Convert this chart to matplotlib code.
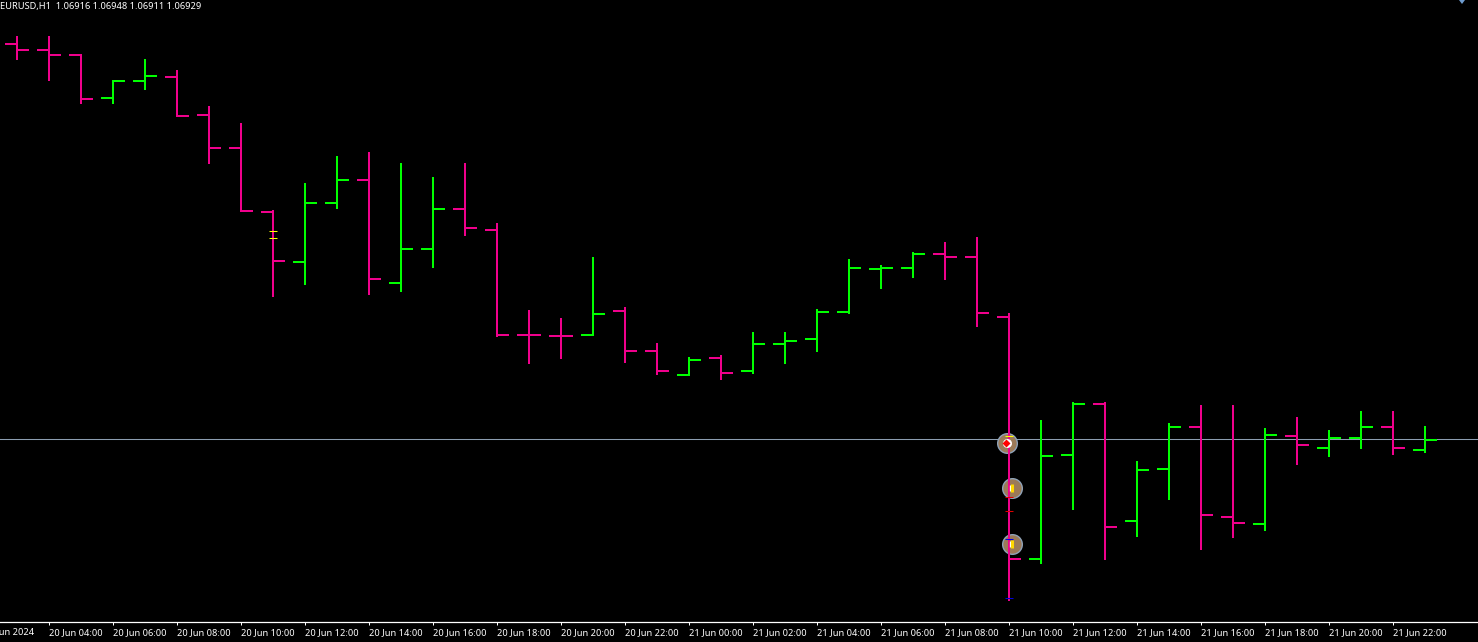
import matplotlib
matplotlib.use("Agg")
import matplotlib.pyplot as plt

# EURUSD H1 bars, first one is 20 Jun 03:00
opens = [1.07457, 1.07449, 1.07442, 1.07385, 1.07408, 1.07413, 1.07362, 1.07318, 1.07233,
         1.07166, 1.07245, 1.07276, 1.07138, 1.07184, 1.07237, 1.07209, 1.07069, 1.07068,
         1.07069, 1.07101, 1.07048, 1.07016, 1.07038, 1.07021, 1.07057, 1.07064, 1.07100,
         1.07157, 1.07158, 1.07177, 1.07173, 1.07093, 1.06770, 1.06909, 1.06977, 1.06821,
         1.06890, 1.06946, 1.06826, 1.06817, 1.06934, 1.06918, 1.06932, 1.06946, 1.06916]
highs = [1.07468, 1.07468, 1.07444, 1.07409, 1.07437, 1.07422, 1.07374, 1.07352, 1.07236,
         1.07272, 1.07308, 1.07313, 1.07298, 1.07280, 1.07298, 1.07218, 1.07102, 1.07092,
         1.07173, 1.07106, 1.07058, 1.07040, 1.07042, 1.07073, 1.07073, 1.07104, 1.07170,
         1.07162, 1.07180, 1.07193, 1.07200, 1.07098, 1.06956, 1.06980, 1.06980, 1.06901,
         1.06952, 1.06976, 1.06976, 1.06945, 1.06960, 1.06942, 1.06968, 1.06968, 1.06948]
lows = [1.07436, 1.07408, 1.07377, 1.07377, 1.07396, 1.07360, 1.07297, 1.07233, 1.07120,
        1.07136, 1.07237, 1.07122, 1.07126, 1.07158, 1.07201, 1.07066, 1.07030, 1.07037,
        1.07068, 1.07032, 1.07016, 1.07014, 1.07009, 1.07017, 1.07030, 1.07046, 1.07097,
        1.07130, 1.07145, 1.07142, 1.07080, 1.06714, 1.06764, 1.06836, 1.06769, 1.06800,
        1.06849, 1.06782, 1.06798, 1.06808, 1.06896, 1.06906, 1.06917, 1.06909, 1.06911]
closes = [1.07449, 1.07442, 1.07384, 1.07408, 1.07414, 1.07361, 1.07318, 1.07234, 1.07168,
          1.07245, 1.07276, 1.07144, 1.07184, 1.07237, 1.07212, 1.07069, 1.07069, 1.07068,
          1.07097, 1.07048, 1.07021, 1.07036, 1.07018, 1.07057, 1.07061, 1.07100, 1.07158,
          1.07158, 1.07177, 1.07173, 1.07098, 1.06770, 1.06908, 1.06977, 1.06813, 1.06889,
          1.06946, 1.06829, 1.06818, 1.06936, 1.06922, 1.06932, 1.06946, 1.06918, 1.06929]

bid_price = 1.06930

# time axis labels, bar index -> text
tick_bars = [1, 3, 5, 7, 9, 11, 13, 15, 17, 19, 21, 23, 25, 27, 29, 31, 33, 35, 37, 39, 41, 43]
tick_labels = ["20 Jun 04:00", "20 Jun 06:00", "20 Jun 08:00", "20 Jun 10:00", "20 Jun 12:00",
               "20 Jun 14:00", "20 Jun 16:00", "20 Jun 18:00", "20 Jun 20:00", "20 Jun 22:00",
               "21 Jun 00:00", "21 Jun 02:00", "21 Jun 04:00", "21 Jun 06:00", "21 Jun 08:00",
               "21 Jun 10:00", "21 Jun 12:00", "21 Jun 14:00", "21 Jun 16:00", "21 Jun 18:00",
               "21 Jun 20:00", "21 Jun 22:00"]
first_label = "20 Jun 2024"
header = "EURUSD,H1  1.06916 1.06948 1.06911 1.06929"

# trade signals on the 21 Jun 10:00 bar
signal_bars = [30.94, 31.09, 31.09]
signal_prices = [1.06925, 1.06865, 1.06790]

# little dashes on top of the bars
dash_bars = [8, 8, 31, 31, 31, 31, 31]
dash_prices = [1.07208, 1.07199, 1.06934, 1.06853, 1.06834, 1.06797, 1.06718]
dash_colours = ['#ffff00', '#ffff00', '#ffff00', '#e00000', '#e00000', '#0000e0', '#0000e0']

green = '#00ff00'
pink = '#f0008c'
font = ['Noto Sans', 'DejaVu Sans']
bar_lw = 1.44

fig = plt.figure(figsize=(14.78, 6.42), dpi=100, facecolor='black')
ax = fig.add_axes([0, 20 / 642, 1, 622 / 642], facecolor='black')

ax.axhline(bid_price, color='#8c9db0', lw=0.75, zorder=1)

for i in range(len(opens)):
    colour = green if closes[i] > opens[i] else pink
    ax.plot([i, i], [lows[i], highs[i]], color=colour, lw=bar_lw, solid_capstyle='butt', antialiased=False, zorder=3)
    ax.plot([i - 0.375, i], [opens[i], opens[i]], color=colour, lw=bar_lw, solid_capstyle='butt', antialiased=False, zorder=3)
    ax.plot([i, i + 0.375], [closes[i], closes[i]], color=colour, lw=bar_lw, solid_capstyle='butt', antialiased=False, zorder=3)

ax.scatter(signal_bars, signal_prices, s=200, color='#9c7a58', edgecolors='#8ea2b8', linewidths=1, zorder=2)

# first signal: red arrow on white, the other two: yellow strip with a white edge
ax.plot(signal_bars[0] - 0.01, signal_prices[0], marker='o', ms=6.5, mfc='white', mec='none', zorder=4)
ax.plot(signal_bars[0] - 0.02, signal_prices[0], marker='D', ms=4.2, mfc='#ff0000', mec='none', zorder=5)
for i in [1, 2]:
    ax.plot(signal_bars[i] - 0.05, signal_prices[i], marker='|', ms=5, mew=0.9, mec='white', zorder=4)
    ax.plot(signal_bars[i] + 0.005, signal_prices[i], marker='|', ms=6.2, mew=2.2, mec='#ffd800', zorder=5)

for i in range(len(dash_bars)):
    ax.plot([dash_bars[i] - 0.11, dash_bars[i] + 0.11], [dash_prices[i], dash_prices[i]],
            color=dash_colours[i], lw=0.75, solid_capstyle='butt', zorder=4)

ax.set_xlim(-17 / 32, (1478 - 17) / 32)
ax.set_ylim(1.0668633, 1.0751567)

for name in ['top', 'left', 'right']:
    ax.spines[name].set_visible(False)
ax.spines['bottom'].set_color('white')
ax.spines['bottom'].set_linewidth(0.9)

ax.set_yticks([])
ax.set_xticks(tick_bars)
ax.set_xticklabels(tick_labels, ha='left', color='white', fontsize=6.7, family=font)
ax.tick_params(axis='x', colors='white', length=2.5, width=0.72, pad=1.6)

# the date of the left edge runs off the chart, same as in the terminal
ax.annotate(first_label, xy=(0, 0), xycoords='axes fraction', xytext=(-17, -10), textcoords='offset pixels',
            ha='left', va='center', color='white', fontsize=6.7, family=font, annotation_clip=False)

fig.text(0, 1 - 6 / 642, header, color='white', fontsize=6.7, family=font, ha='left', va='center')

# small chart-shift triangle in the top right corner
fig.add_artist(plt.Polygon([[1459 / 1478, 1], [1465 / 1478, 1], [1462 / 1478, 1 - 4 / 642]],
                           closed=True, transform=fig.transFigure, facecolor='#6f9ccf', edgecolor='none'))

fig.savefig('out.png', dpi=100, facecolor='black')
